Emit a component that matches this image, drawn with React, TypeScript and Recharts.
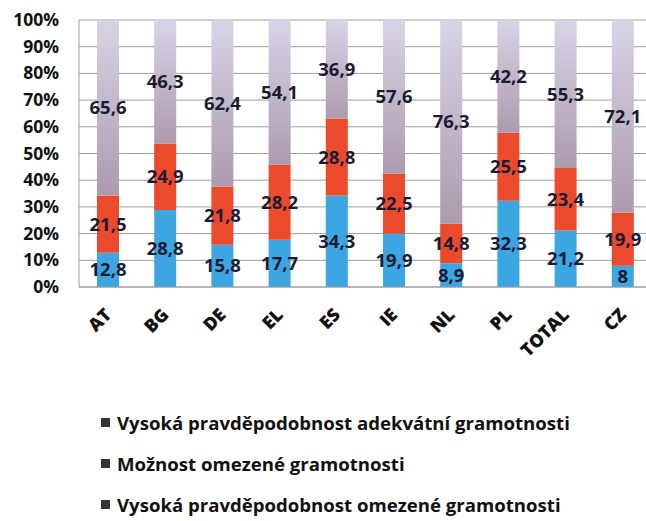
import React from 'react'
import { Bar, BarChart, CartesianGrid, LabelList, XAxis, YAxis } from 'recharts'

// 100% stacked literacy chart: three groups per country, values in percent.

const countries = ['AT', 'BG', 'DE', 'EL', 'ES', 'IE', 'NL', 'PL', 'TOTAL', 'CZ']
const highLimited = [12.8, 28.8, 15.8, 17.7, 34.3, 19.9, 8.9, 32.3, 21.2, 8]
const possibleLimited = [21.5, 24.9, 21.8, 28.2, 28.8, 22.5, 14.8, 25.5, 23.4, 19.9]
const highAdequate = [65.6, 46.3, 62.4, 54.1, 36.9, 57.6, 76.3, 42.2, 55.3, 72.1]
const yTicks = [0, 10, 20, 30, 40, 50, 60, 70, 80, 90, 100]

const legendItems = [
  'Vysoká pravděpodobnost adekvátní gramotnosti',
  'Možnost omezené gramotnosti',
  'Vysoká pravděpodobnost omezené gramotnosti',
]

const data = countries.map((c, i) => ({
  name: c,
  low: highLimited[i],
  mid: possibleLimited[i],
  high: highAdequate[i],
}))

const FONT = '"Open Sans", "DejaVu Sans", sans-serif'
const INK = '#1b1b33'

const fmt = (v: number) => String(v).replace('.', ',')

function XTick({ x, y, payload }: { x?: number; y?: number; payload?: { value: string } }) {
  return (
    <text
      x={0}
      y={0}
      transform={`translate(${(x ?? 0) + 5},${(y ?? 0) + 21}) rotate(-45)`}
      textAnchor="end"
      fontFamily={FONT}
      fontWeight={800}
      fontSize={18}
      fill="#111"
    >
      {payload?.value}
    </text>
  )
}

function YTick({ y, payload }: { y?: number; payload?: { value: number } }) {
  return (
    <text
      x={59}
      y={(y ?? 0) + 6}
      textAnchor="end"
      fontFamily={FONT}
      fontWeight={700}
      fontSize={17.5}
      fill="#111"
    >
      {payload?.value}%
    </text>
  )
}

const labelStyle = { fontFamily: FONT, fontWeight: 700, fontSize: 18.5, fill: INK }

export default function App() {
  return (
    <div
      style={{
        position: 'absolute',
        left: 0,
        top: 0,
        width: 646,
        height: 521,
        overflow: 'hidden',
        background: '#fff',
      }}
    >
      <BarChart
        width={653}
        height={372}
        data={data}
        margin={{ top: 20, right: 2, bottom: 0, left: 0 }}
        barSize={22}
      >
        <defs>
          <linearGradient id="topGrad" x1="0" y1="0" x2="0" y2="1">
            <stop offset="0%" stopColor="#d8d4e6" />
            <stop offset="100%" stopColor="#ab9bad" />
          </linearGradient>
        </defs>
        <CartesianGrid vertical={false} stroke="#9e9e9e" />
        <XAxis
          dataKey="name"
          tickLine={false}
          axisLine={{ stroke: '#9e9e9e' }}
          height={85}
          interval={0}
          tick={<XTick />}
        />
        <YAxis
          width={79}
          domain={[0, 100]}
          ticks={yTicks}
          tickLine={false}
          axisLine={{ stroke: '#9e9e9e' }}
          tick={<YTick />}
        />
        <Bar dataKey="low" stackId="a" fill="#3ca6e2" isAnimationActive={false}>
          <LabelList dataKey="low" position="center" formatter={fmt} style={labelStyle} />
        </Bar>
        <Bar dataKey="mid" stackId="a" fill="#ec4a2c" isAnimationActive={false}>
          <LabelList dataKey="mid" position="center" formatter={fmt} style={labelStyle} />
        </Bar>
        <Bar dataKey="high" stackId="a" fill="url(#topGrad)" isAnimationActive={false}>
          <LabelList dataKey="high" position="center" formatter={fmt} style={labelStyle} />
        </Bar>
      </BarChart>
      <div style={{ position: 'absolute', left: 101, top: 402, fontFamily: FONT }}>
        {legendItems.map((t) => (
          <div
            key={t}
            style={{
              display: 'flex',
              alignItems: 'center',
              height: 41,
              fontWeight: 700,
              fontSize: 18.6,
              color: '#111',
            }}
          >
            <span
              style={{ width: 9, height: 9, background: '#333', marginRight: 7, display: 'inline-block' }}
            />
            {t}
          </div>
        ))}
      </div>
    </div>
  )
}
